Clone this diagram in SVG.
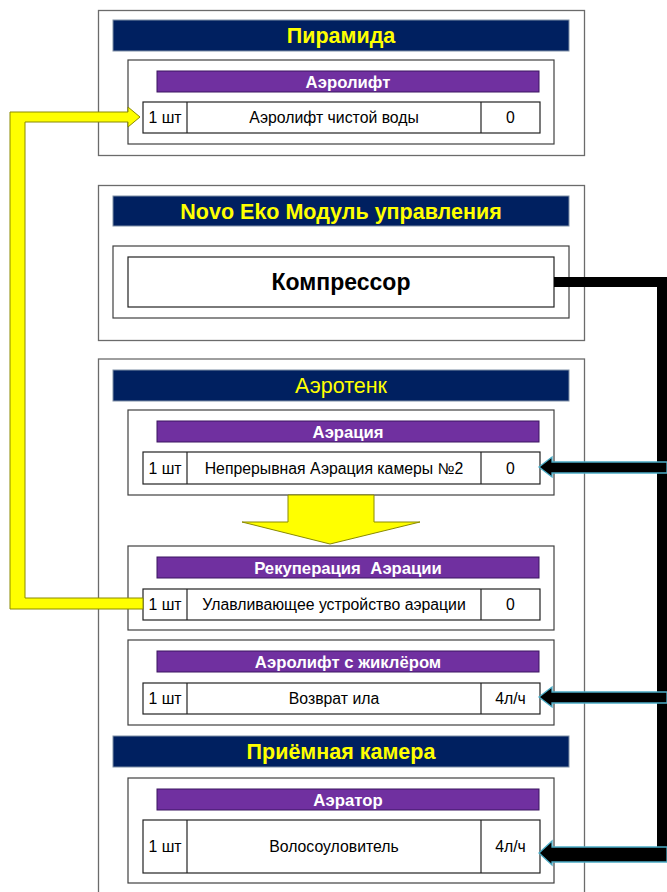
<svg xmlns="http://www.w3.org/2000/svg" width="667" height="892" viewBox="0 0 667 892">
<style>
.outer{fill:#fff;stroke:#6b6b6b;stroke-width:1.3}
.inner{fill:#fff;stroke:#404040;stroke-width:1.2}
.navy{fill:#002060;stroke:#7f8fa6;stroke-width:1}
.purple{fill:#7030A0;stroke:#3a1460;stroke-width:1}
.cell{fill:#fff;stroke:#222;stroke-width:1.2}
.div{stroke:#222;stroke-width:1.2}
.hdr{font-family:"Liberation Sans",Arial,sans-serif;font-size:21.5px;font-weight:bold;fill:#FFFF00;text-anchor:middle}
.hdrr{font-family:"Liberation Sans",Arial,sans-serif;font-size:21.5px;fill:#FFFF00;text-anchor:middle}
.sub{font-family:"Liberation Sans",Arial,sans-serif;font-size:16.7px;font-weight:bold;fill:#fff;text-anchor:middle}
.t{font-family:"Liberation Sans",Arial,sans-serif;font-size:15.8px;fill:#000;text-anchor:middle}
.big{font-family:"Liberation Sans",Arial,sans-serif;font-size:23px;font-weight:bold;fill:#000;text-anchor:middle}
.yel{fill:#FFFF00;stroke:#8a8a00;stroke-width:1}
.blk{fill:#000;stroke:#4BACC6;stroke-width:1.3}
</style>
<rect width="667" height="892" fill="#fff"/>

<g id="piramida">
<rect class="outer" x="98.5" y="10.5" width="486" height="145"/>
<rect class="navy" x="113" y="20" width="456" height="31"/>
<text class="hdr" x="341" y="43">Пирамида</text>
<g id="aerolift">
<rect class="inner" x="128" y="60" width="426" height="84"/>
<rect class="purple" x="157" y="71" width="382" height="21"/>
<text class="sub" x="348" y="87.5">Аэролифт</text>
<rect class="cell" x="143" y="102" width="397" height="31"/>
<line class="div" x1="187" y1="102" x2="187" y2="133"/>
<line class="div" x1="481" y1="102" x2="481" y2="133"/>
<text class="t" x="165" y="123">1 шт</text>
<text class="t" x="334" y="123">Аэролифт чистой воды</text>
<text class="t" x="510.5" y="123">0</text>
</g>
</g>

<g id="novoeko">
<rect class="outer" x="98.5" y="185.5" width="486" height="155"/>
<rect class="navy" x="113" y="196" width="456" height="30"/>
<text class="hdr" x="341" y="218.5">Novo Eko Модуль управления</text>
<rect class="inner" x="113" y="246" width="456" height="72"/>
<g id="kompressor">
<rect class="cell" x="128" y="257" width="426" height="50"/>
<text class="big" x="341" y="290">Компрессор</text>
</g>
</g>

<g id="aerotenk">
<rect class="outer" x="98.5" y="359" width="486" height="545"/>
<rect class="navy" x="113" y="370" width="456" height="31"/>
<text class="hdrr" x="341" y="393">Аэротенк</text>

<g id="aeracia">
<rect class="inner" x="128" y="410" width="426" height="85"/>
<rect class="purple" x="157" y="421" width="382" height="21"/>
<text class="sub" x="348" y="437.5">Аэрация</text>
<rect class="cell" x="143" y="452" width="397" height="32"/>
<line class="div" x1="187" y1="452" x2="187" y2="484"/>
<line class="div" x1="481" y1="452" x2="481" y2="484"/>
<text class="t" x="165" y="473.5">1 шт</text>
<text class="t" x="334" y="473.5">Непрерывная Аэрация камеры №2</text>
<text class="t" x="510.5" y="473.5">0</text>
</g>

<g id="rekuperacia">
<rect class="inner" x="128" y="546" width="426" height="84"/>
<rect class="purple" x="157" y="557" width="382" height="21"/>
<text class="sub" x="348" y="573.5" xml:space="preserve">Рекуперация  Аэрации</text>
<rect class="cell" x="143" y="589" width="397" height="31"/>
<line class="div" x1="187" y1="589" x2="187" y2="620"/>
<line class="div" x1="481" y1="589" x2="481" y2="620"/>
<text class="t" x="165" y="610">1 шт</text>
<text class="t" x="334" y="610">Улавливающее устройство аэрации</text>
<text class="t" x="510.5" y="610">0</text>
</g>

<g id="aerolift-zhikler">
<rect class="inner" x="128" y="640" width="426" height="85"/>
<rect class="purple" x="157" y="651" width="382" height="21"/>
<text class="sub" x="348" y="667.5">Аэролифт с жиклёром</text>
<rect class="cell" x="143" y="683" width="397" height="31"/>
<line class="div" x1="187" y1="683" x2="187" y2="714"/>
<line class="div" x1="481" y1="683" x2="481" y2="714"/>
<text class="t" x="165" y="704">1 шт</text>
<text class="t" x="334" y="704">Возврат ила</text>
<text class="t" x="510.5" y="704">4л/ч</text>
</g>

<g id="priemnaya">
<rect class="navy" x="113" y="736" width="456" height="31"/>
<text class="hdr" x="341" y="759">Приёмная камера</text>
<g id="aerator">
<rect class="inner" x="128" y="778" width="426" height="105"/>
<rect class="purple" x="157" y="789" width="382" height="21"/>
<text class="sub" x="348" y="805.5">Аэратор</text>
<rect class="cell" x="143" y="820" width="397" height="53"/>
<line class="div" x1="187" y1="820" x2="187" y2="873"/>
<line class="div" x1="481" y1="820" x2="481" y2="873"/>
<text class="t" x="165" y="852">1 шт</text>
<text class="t" x="334" y="852">Волосоуловитель</text>
<text class="t" x="510.5" y="852">4л/ч</text>
</g>
</g>
</g>

<g id="connectors">
<polygon class="yel" points="10,112 128,112 128,107 140,117 128,127 128,122 25,122 25,598 143,598 143,609 10,609"/>
<polygon class="yel" points="288,495 374,495 374,522 420,522 330,544 242,522 288,522"/>
<path d="M554,282 H662 V862" fill="none" stroke="#000" stroke-width="10" stroke-linejoin="miter"/>
<polygon class="blk" points="667,462 552,462 552,457 539,467 552,477 552,473 667,473"/>
<polygon class="blk" points="667,692 552,692 552,687 539,697 552,707 552,703 667,703"/>
<polygon class="blk" points="667,847 552,847 552,841 539,853 552,865 552,862 667,862"/>
</g>
</svg>
